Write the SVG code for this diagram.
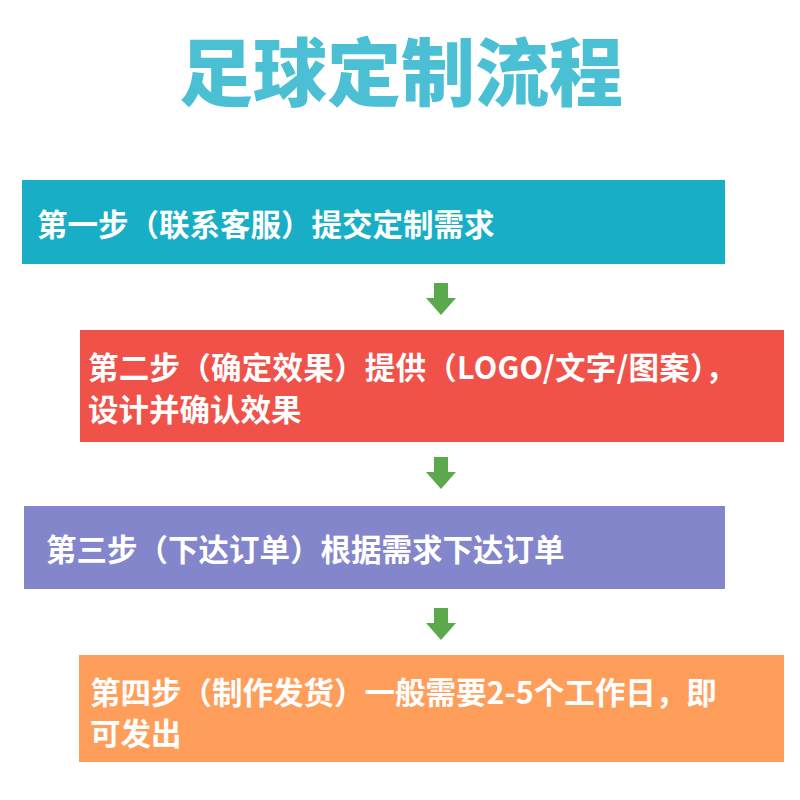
<svg xmlns="http://www.w3.org/2000/svg" width="800" height="800" viewBox="0 0 800 800">
<style>
.t{font-family:"Noto Sans CJK SC","Noto Sans",sans-serif;font-weight:700;fill:#fff;font-size:30.5px}
.title{font-family:"Noto Sans CJK SC","Noto Sans",sans-serif;font-weight:900;fill:#4BC0D4;font-size:74px}
.arr{fill:#5BA94C}
</style>
<defs>
<path id="ar" d="M-7,0 H7 V15 H15 L0,32 L-15,15 H-7 Z"/>
</defs>
<rect width="800" height="800" fill="#fff"/>
<text class="title" x="401" y="100" text-anchor="middle">足球定制流程</text>
<g id="step1">
<rect x="22" y="180" width="703" height="84" fill="#18AEC6"/>
<text class="t" x="37" y="236">第一步（联系客服）提交定制需求</text>
</g>
<g id="step2">
<rect x="80" y="330" width="704" height="112" fill="#F0524A"/>
<text class="t" x="88" y="379" textLength="648" lengthAdjust="spacing">第二步（确定效果）提供（LOGO/文字/图案），</text>
<text class="t" x="88" y="421">设计并确认效果</text>
</g>
<g id="step3">
<rect x="24" y="506" width="701" height="83" fill="#8486CC"/>
<text class="t" x="46" y="561">第三步（下达订单）根据需求下达订单</text>
</g>
<g id="step4">
<rect x="79" y="655" width="705" height="107" fill="#FF9E5B"/>
<text class="t" x="90" y="704">第四步（制作发货）一般需要2-5个工作日，即</text>
<text class="t" x="90" y="745">可发出</text>
</g>
<g id="connectors">
<use href="#ar" class="arr" x="441" y="283"/>
<use href="#ar" class="arr" x="441" y="457"/>
<use href="#ar" class="arr" x="441" y="608"/>
</g>
</svg>
